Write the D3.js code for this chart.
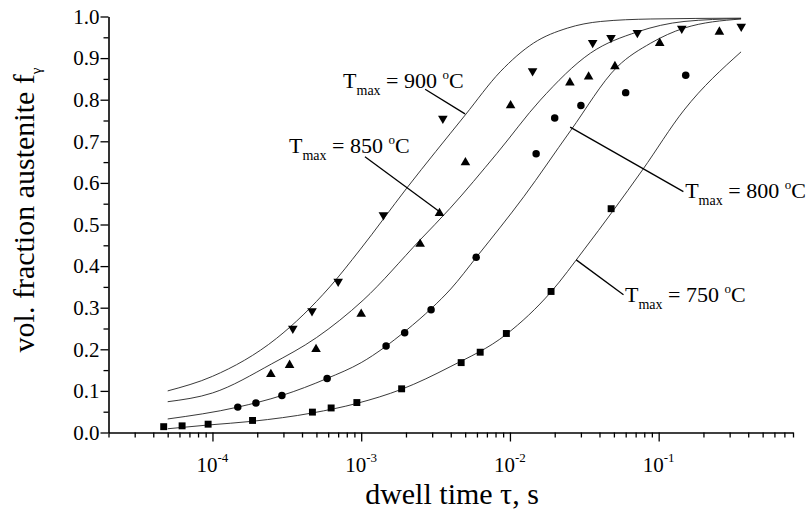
<!DOCTYPE html>
<html>
<head>
<meta charset="utf-8">
<script src="https://cdn.jsdelivr.net/npm/d3@7"></script>
<style>
  body { margin: 0; background: #fff; }
  svg text { font-family: "Liberation Serif", "Times New Roman", serif; fill: #000; }
</style>
</head>
<body>
<svg id="plot" width="809" height="516"></svg>
<script>
// measured points: dwell time (s) and volume fraction austenite
var sq750T = [4.7e-5, 6.25e-5, 9.35e-5, 1.86e-4, 4.7e-4, 6.28e-4, 9.35e-4, 1.87e-3, 4.7e-3, 6.31e-3, 9.46e-3, 1.89e-2, 4.79e-2];
var sq750F = [0.014, 0.016, 0.020, 0.029, 0.049, 0.059, 0.072, 0.105, 0.168, 0.193, 0.238, 0.339, 0.538];

var circ800T = [1.48e-4, 1.96e-4, 2.93e-4, 5.9e-4, 1.47e-3, 1.96e-3, 2.95e-3, 5.93e-3, 1.5e-2, 2.0e-2, 3.0e-2, 6.0e-2, 0.152];
var circ800F = [0.061, 0.071, 0.089, 0.130, 0.208, 0.240, 0.295, 0.421, 0.670, 0.756, 0.786, 0.817, 0.859];

var tri850T = [2.47e-4, 3.3e-4, 4.97e-4, 1.0e-3, 2.49e-3, 3.36e-3, 5.02e-3, 1.01e-2, 2.53e-2, 3.38e-2, 5.08e-2, 0.1016, 0.256];
var tri850F = [0.140, 0.162, 0.200, 0.285, 0.453, 0.527, 0.649, 0.786, 0.841, 0.855, 0.880, 0.936, 0.963];

var tdn900T = [3.47e-4, 4.67e-4, 7.0e-4, 1.41e-3, 3.54e-3, 1.42e-2, 3.6e-2, 4.78e-2, 7.19e-2, 0.143, 0.359];
var tdn900F = [0.250, 0.292, 0.363, 0.523, 0.755, 0.869, 0.937, 0.949, 0.961, 0.971, 0.976];

// model curves
var fit750T = [5e-5, 9.35e-5, 1.86e-4, 4.7e-4, 9.35e-4, 1.87e-3, 3.96e-3, 9.46e-3, 1.89e-2, 3.14e-2, 7.78e-2, 0.148, 0.358];
var fit750F = [0.009, 0.018, 0.027, 0.047, 0.070, 0.104, 0.158, 0.236, 0.338, 0.439, 0.631, 0.775, 0.915];

var fit800T = [5e-5, 1.48e-4, 2.93e-4, 5.9e-4, 1e-3, 2e-3, 3e-3, 4e-3, 6e-3, 1.24e-2, 2.55e-2, 5.27e-2, 8.85e-2, 0.148, 0.358];
var fit800F = [0.0325, 0.061, 0.089, 0.130, 0.168, 0.245, 0.300, 0.345, 0.423, 0.567, 0.725, 0.879, 0.936, 0.972, 0.994];

var fit850T = [5e-5, 1e-4, 2.5e-4, 5e-4, 1.03e-3, 2.49e-3, 3.96e-3, 8.18e-3, 1.6e-2, 3.48e-2, 7.19e-2, 0.148, 0.358];
var fit850F = [0.074, 0.095, 0.165, 0.228, 0.318, 0.463, 0.539, 0.671, 0.799, 0.912, 0.963, 0.988, 0.995];

var fit900T = [5e-5, 1e-4, 2.69e-4, 6.15e-4, 9.8e-4, 2.02e-3, 5.0e-3, 8.6e-3, 1.44e-2, 2.43e-2, 4.07e-2, 8.85e-2, 0.358];
var fit900F = [0.100, 0.135, 0.226, 0.350, 0.439, 0.587, 0.763, 0.867, 0.936, 0.972, 0.988, 0.994, 0.996];

// annotations: temperature, text anchor and leader line (data units)
var annoTemp = ['900', '850', '800', '750'];
var annoT = [7.55e-4, 3.27e-4, 0.1507, 0.0594];
var annoF = [0.828, 0.671, 0.563, 0.314];
var leadT0 = [2.69e-3, 1.06e-3, 0.1466, 0.058];
var leadF0 = [0.825, 0.663, 0.579, 0.331];
var leadT1 = [4.99e-3, 3.44e-3, 2.54e-2, 2.79e-2];
var leadF1 = [0.766, 0.528, 0.734, 0.415];

var yTicks = [0, 0.1, 0.2, 0.3, 0.4, 0.5, 0.6, 0.7, 0.8, 0.9, 1.0];
var xMajor = [1e-4, 1e-3, 1e-2, 1e-1];
var xExp = ['-4', '-3', '-2', '-1'];

var svg = d3.select('#plot');

var x = d3.scaleLog().domain([2e-5, 0.8]).range([108.5, 793]);
var y = d3.scaleLinear().domain([0, 1]).range([432.5, 16.5]);

function zip(ts, fs) { return ts.map(function(t, i) { return [t, fs[i]]; }); }

// Y axis
var yAxis = svg.append('g')
  .attr('transform', 'translate(108.5,0)')
  .call(d3.axisLeft(y).tickValues(yTicks).tickSize(8).tickSizeOuter(0).tickPadding(1).tickFormat(d3.format('.1f')));
yAxis.selectAll('text').attr('font-size', 21).attr('font-family', '"Liberation Serif", serif');

var yMinor = y.ticks(20).filter(function(v) { return Math.round(v * 100) % 10 !== 0; });
svg.append('g')
  .attr('transform', 'translate(108.5,0)')
  .call(d3.axisLeft(y).tickValues(yMinor).tickSize(5).tickSizeOuter(0).tickFormat(''))
  .select('.domain').remove();

// X axis
svg.append('g')
  .attr('transform', 'translate(0,432.5)')
  .call(d3.axisBottom(x).tickValues(xMajor).tickSize(9).tickSizeOuter(0).tickFormat(''));

var xMinor = x.ticks().filter(function(v) { return xMajor.indexOf(v) < 0; });
svg.append('g')
  .attr('transform', 'translate(0,432.5)')
  .call(d3.axisBottom(x).tickValues(xMinor).tickSize(5).tickSizeOuter(0).tickFormat(''))
  .select('.domain').remove();

svg.selectAll('.domain').attr('stroke-width', 1.6);
svg.selectAll('.tick line').attr('stroke-width', 1.3);

var xl = svg.selectAll('.xlab')
  .data(xMajor)
  .enter().append('text')
    .attr('class', 'xlab')
    .attr('x', function(d) { return x(d); })
    .attr('y', 472)
    .attr('text-anchor', 'middle')
    .attr('font-size', 21);
xl.append('tspan').text('10');
xl.append('tspan').attr('font-size', 13).attr('dy', -10).text(function(d, i) { return xExp[i]; });

// axis titles
svg.append('text')
  .attr('x', 452)
  .attr('y', 504)
  .attr('text-anchor', 'middle')
  .attr('font-size', 30)
  .text('dwell time \u03C4, s');

var yt = svg.append('text')
  .attr('transform', 'translate(34,210) rotate(-90)')
  .attr('text-anchor', 'middle')
  .attr('font-size', 30);
yt.append('tspan').text('vol. fraction austenite f');
yt.append('tspan').attr('font-size', 15).attr('dy', 7).text('\u03B3');

// model curves
var line = d3.line()
  .x(function(d) { return x(d[0]); })
  .y(function(d) { return y(d[1]); })
  .curve(d3.curveMonotoneX);

[[fit750T, fit750F], [fit800T, fit800F], [fit850T, fit850F], [fit900T, fit900F]].forEach(function(c) {
  svg.append('path')
    .datum(zip(c[0], c[1]))
    .attr('d', line)
    .attr('fill', 'none')
    .attr('stroke', '#222')
    .attr('stroke-width', 0.9);
});

// data points
function drawPoints(ts, fs, type, size, rot) {
  svg.selectAll(null)
    .data(zip(ts, fs))
    .enter().append('path')
      .attr('d', d3.symbol().type(type).size(size))
      .attr('transform', function(d) { return 'translate(' + x(d[0]) + ',' + y(d[1]) + ') rotate(' + rot + ')'; })
      .attr('fill', '#000');
}
drawPoints(sq750T, sq750F, d3.symbolSquare, 48, 0);
drawPoints(circ800T, circ800F, d3.symbolCircle, 44, 0);
drawPoints(tri850T, tri850F, d3.symbolTriangle, 40, 0);
drawPoints(tdn900T, tdn900F, d3.symbolTriangle, 40, 180);

// annotations
annoTemp.forEach(function(temp, i) {
  svg.append('line')
    .attr('x1', x(leadT0[i])).attr('y1', y(leadF0[i]))
    .attr('x2', x(leadT1[i])).attr('y2', y(leadF1[i]))
    .attr('stroke', '#000')
    .attr('stroke-width', 1.3);

  var t = svg.append('text')
    .attr('x', x(annoT[i]))
    .attr('y', y(annoF[i]))
    .attr('font-size', 22);
  t.append('tspan').text('T');
  t.append('tspan').attr('font-size', 14).attr('dy', 7).text('max');
  t.append('tspan').attr('dy', -7).text(' = ' + temp + ' ');
  t.append('tspan').attr('font-size', 13).attr('dy', -9).text('o');
  t.append('tspan').attr('dy', 9).text('C');
});
</script>
</body>
</html>
